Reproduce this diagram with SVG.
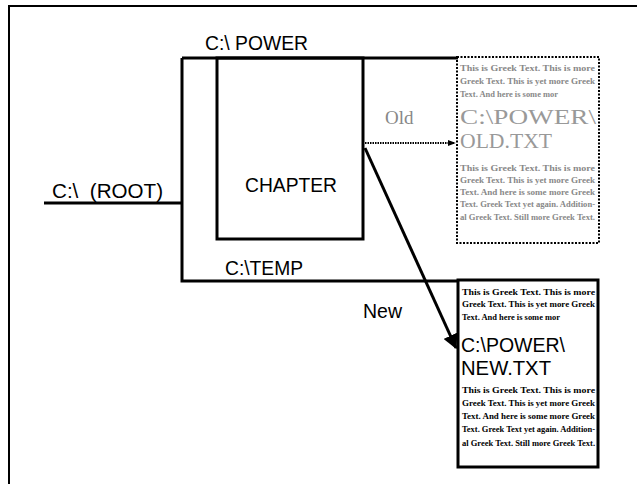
<svg xmlns="http://www.w3.org/2000/svg" width="637" height="484" viewBox="0 0 637 484">
<defs>
<style>
.ln{stroke:#000;stroke-width:3;fill:none}
.lbl{font-family:"Liberation Sans",Arial,sans-serif;font-size:20px;fill:#000}
.sm{font-family:"Liberation Serif","Times New Roman",serif;font-size:8px;font-weight:bold;fill:#000}
.smg{font-family:"Liberation Serif","Times New Roman",serif;font-size:8px;font-weight:bold;fill:#888}
.bigs{font-family:"Liberation Serif","Times New Roman",serif;font-size:20px;fill:#999}
.bign{font-family:"Liberation Sans",Arial,sans-serif;font-size:20px;fill:#000}
</style>
<marker id="ah" viewBox="0 0 10 10" refX="9" refY="5" markerWidth="5" markerHeight="5" orient="auto" markerUnits="strokeWidth"><path d="M0,0 L10,5 L0,10 z" fill="#000"/></marker>
<marker id="ahs" viewBox="0 0 10 10" refX="9" refY="5" markerWidth="4" markerHeight="4" orient="auto" markerUnits="strokeWidth"><path d="M0,1 L10,5 L0,9 z" fill="#000"/></marker>
</defs>
<g id="frame"><path d="M9,484 V6 H637" stroke="#000" stroke-width="2" fill="none"/></g>
<g id="root"><text class="lbl" x="52" y="198" textLength="111" lengthAdjust="spacingAndGlyphs" xml:space="preserve">C:\  (ROOT)</text></g>
<g id="power"><text class="lbl" x="205" y="50" textLength="103" lengthAdjust="spacingAndGlyphs">C:\ POWER</text></g>
<g id="temp"><text class="lbl" x="225" y="275" textLength="78" lengthAdjust="spacingAndGlyphs">C:\TEMP</text></g>
<g id="chapter"><rect class="ln" x="217" y="58" width="146" height="181"/><text class="lbl" x="245" y="192" textLength="92" lengthAdjust="spacingAndGlyphs">CHAPTER</text></g>
<g id="old-file">
<rect x="457" y="57" width="142" height="186" fill="none" stroke="#000" stroke-width="2" stroke-dasharray="2 1.5"/>
<text class="smg" x="460" y="71" textLength="135" lengthAdjust="spacingAndGlyphs">This is Greek Text. This is more</text>
<text class="smg" x="460" y="84" textLength="135" lengthAdjust="spacingAndGlyphs">Greek Text. This is yet more Greek</text>
<text class="smg" x="460" y="97" textLength="98" lengthAdjust="spacingAndGlyphs">Text. And here is some mor</text>
<text class="bigs" x="460" y="124" textLength="136" lengthAdjust="spacingAndGlyphs">C:\POWER\</text>
<text class="bigs" x="460" y="148" textLength="92" lengthAdjust="spacingAndGlyphs">OLD.TXT</text>
<text class="smg" x="460" y="171" textLength="135" lengthAdjust="spacingAndGlyphs">This is Greek Text. This is more</text>
<text class="smg" x="460" y="183" textLength="135" lengthAdjust="spacingAndGlyphs">Greek Text. This is yet more Greek</text>
<text class="smg" x="460" y="195" textLength="135" lengthAdjust="spacingAndGlyphs">Text. And here is some more Greek</text>
<text class="smg" x="460" y="207" textLength="135" lengthAdjust="spacingAndGlyphs">Text. Greek Text yet again. Addition-</text>
<text class="smg" x="460" y="220" textLength="135" lengthAdjust="spacingAndGlyphs">al Greek Text. Still more Greek Text.</text>
</g>
<g id="new-file">
<rect class="ln" x="458" y="280" width="140" height="187" stroke-width="2.5"/>
<text class="sm" x="462" y="295" textLength="133" lengthAdjust="spacingAndGlyphs">This is Greek Text. This is more</text>
<text class="sm" x="462" y="307" textLength="133" lengthAdjust="spacingAndGlyphs">Greek Text. This is yet more Greek</text>
<text class="sm" x="462" y="320" textLength="98" lengthAdjust="spacingAndGlyphs">Text. And here is some mor</text>
<text class="bign" x="461" y="352" textLength="104" lengthAdjust="spacingAndGlyphs">C:\POWER\</text>
<text class="bign" x="461" y="375" textLength="90" lengthAdjust="spacingAndGlyphs">NEW.TXT</text>
<text class="sm" x="462" y="393" textLength="133" lengthAdjust="spacingAndGlyphs">This is Greek Text. This is more</text>
<text class="sm" x="462" y="406" textLength="133" lengthAdjust="spacingAndGlyphs">Greek Text. This is yet more Greek</text>
<text class="sm" x="462" y="419" textLength="133" lengthAdjust="spacingAndGlyphs">Text. And here is some more Greek</text>
<text class="sm" x="462" y="432" textLength="133" lengthAdjust="spacingAndGlyphs">Text. Greek Text yet again. Addition-</text>
<text class="sm" x="462" y="446" textLength="133" lengthAdjust="spacingAndGlyphs">al Greek Text. Still more Greek Text.</text>
</g>
<g id="connectors">
<path class="ln" d="M44,203 H182"/>
<path class="ln" d="M182,58 V281 H458"/>
<path class="ln" d="M182,58 H458"/>
<path d="M365,143 H455" stroke="#000" stroke-width="2" stroke-dasharray="1.5 1" fill="none" marker-end="url(#ahs)"/>
<text x="385" y="124" font-family="Liberation Serif, serif" font-size="19" fill="#888">Old</text>
<path d="M365,148 L456,348" stroke="#000" stroke-width="3" fill="none" marker-end="url(#ah)"/>
<text class="lbl" x="363" y="318" textLength="39" lengthAdjust="spacingAndGlyphs">New</text>
</g>
</svg>
